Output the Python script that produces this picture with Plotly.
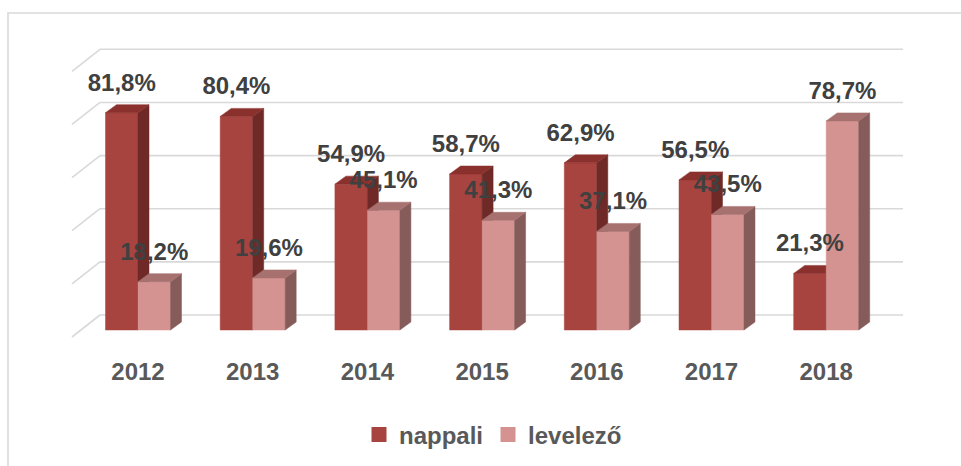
import plotly.graph_objects as go

# Share of students by study mode (%), per year
years = ["2012", "2013", "2014", "2015", "2016", "2017", "2018"]
nappali = [81.8, 80.4, 54.9, 58.7, 62.9, 56.5, 21.3]
levelezo = [18.2, 19.6, 45.1, 41.3, 37.1, 43.5, 78.7]
grid_values = [0, 20, 40, 60, 80, 100]

series_names = ["nappali", "levelező"]
series_values = [nappali, levelezo]
front_colors = ["#A8443F", "#D49391"]
top_colors = ["#8A302D", "#A6716F"]
side_colors = ["#6F2A27", "#865C5A"]

# Page / projection geometry (pixels), converted to axis units below
W, H = 961, 466
CAT_PX = 114.7        # pixels between category centres
CAT0_PX = 138         # x pixel of the first category centre
PCT_PX = 2.657        # pixels per percentage point
ZERO_PX = 330         # y pixel of the bar bases (front plane)
PLOT_BOTTOM_PX = 355  # bottom of the plotting area

BAR_W = 32.5 / CAT_PX
DEPTH_X = 11 / CAT_PX
DEPTH_Y = 8 / PCT_PX
WALL_LIFT = 15 / PCT_PX
WALL_X0 = (100 - CAT0_PX) / CAT_PX
WALL_X1 = (903 - CAT0_PX) / CAT_PX
SIDE_X = (72 - CAT0_PX) / CAT_PX
SIDE_DROP = 22 / PCT_PX
LABEL_LIFT = 28 / PCT_PX

GRID_COLOR = "#D9D9D9"
FONT = "Liberation Sans"


def fmt(v):
    return f"{v:.1f}".replace(".", ",") + "%"


def polys(pts_list):
    xs, ys = [], []
    for pts in pts_list:
        for px, py in pts + [pts[0]]:
            xs.append(px)
            ys.append(py)
        xs.append(None)
        ys.append(None)
    return xs, ys


fig = go.Figure()

# 3D column faces, drawn series by series so that the second bar of each
# pair covers the side of the first one
for s, (name, vals) in enumerate(zip(series_names, series_values)):
    fronts, sides, tops = [], [], []
    for i, v in enumerate(vals):
        x0 = i - BAR_W + s * BAR_W
        x1 = x0 + BAR_W
        fronts.append([(x0, 0), (x1, 0), (x1, v), (x0, v)])
        sides.append([(x1, 0), (x1 + DEPTH_X, DEPTH_Y),
                      (x1 + DEPTH_X, v + DEPTH_Y), (x1, v)])
        tops.append([(x0, v), (x1, v), (x1 + DEPTH_X, v + DEPTH_Y),
                     (x0 + DEPTH_X, v + DEPTH_Y)])
    for faces, color in ((fronts, front_colors[s]),
                         (sides, side_colors[s]),
                         (tops, top_colors[s])):
        xs, ys = polys(faces)
        fig.add_trace(go.Scatter(
            x=xs, y=ys, mode="lines", fill="toself", fillcolor=color,
            line=dict(color=color, width=0.5), showlegend=False,
            hoverinfo="skip"))

# Value labels above the front face of each column
for s, vals in enumerate(series_values):
    xs = [i - BAR_W / 2 + s * BAR_W for i in range(len(vals))]
    fig.add_trace(go.Scatter(
        x=xs, y=[v + LABEL_LIFT for v in vals], mode="text",
        text=[fmt(v) for v in vals], textposition="middle center",
        textfont=dict(family=FONT, size=24, color="#404040", weight="bold"),
        showlegend=False, hoverinfo="skip", cliponaxis=False))

# Legend entries
for s, name in enumerate(series_names):
    fig.add_trace(go.Scatter(
        x=[None], y=[None], mode="markers", name=name,
        marker=dict(symbol="square", size=15, color=front_colors[s])))

# Back wall and side wall gridlines
shapes = []
for g in grid_values:
    yb = g + WALL_LIFT
    shapes.append(dict(type="line", xref="x", yref="y", layer="below",
                       x0=WALL_X0, x1=WALL_X1, y0=yb, y1=yb,
                       line=dict(color=GRID_COLOR, width=1.6)))
    shapes.append(dict(type="line", xref="x", yref="y", layer="below",
                       x0=SIDE_X, x1=WALL_X0, y0=yb - SIDE_DROP, y1=yb,
                       line=dict(color=GRID_COLOR, width=1.6)))

# Chart frame (top and left edges)
PLOT_H = PLOT_BOTTOM_PX
shapes.append(dict(type="path", xref="paper", yref="paper", layer="above",
                   path=(f"M {8 / W},{(PLOT_H - H) / PLOT_H} "
                         f"L {8 / W},{(PLOT_H - 13) / PLOT_H} "
                         f"L 1,{(PLOT_H - 13) / PLOT_H}"),
                   line=dict(color=GRID_COLOR, width=1.6)))

fig.update_layout(
    width=W, height=H,
    margin=dict(l=0, r=0, t=0, b=H - PLOT_BOTTOM_PX),
    paper_bgcolor="white", plot_bgcolor="white",
    shapes=shapes,
    showlegend=True,
    legend=dict(orientation="h", x=493 / W, xanchor="center",
                y=(PLOT_H - 435) / PLOT_H, yanchor="middle",
                font=dict(family=FONT, size=24, color="#595959", weight="bold"),
                bgcolor="rgba(0,0,0,0)"),
    xaxis=dict(range=[-CAT0_PX / CAT_PX, (W - CAT0_PX) / CAT_PX],
               tickmode="array", tickvals=list(range(len(years))),
               ticktext=years, showgrid=False, zeroline=False,
               showline=False, ticks="",
               tickfont=dict(family=FONT, size=24, color="#595959",
                             weight="bold"),
               fixedrange=True),
    yaxis=dict(range=[(ZERO_PX - PLOT_BOTTOM_PX) / PCT_PX, ZERO_PX / PCT_PX],
               visible=False, fixedrange=True),
)

fig.write_html("out.html")
